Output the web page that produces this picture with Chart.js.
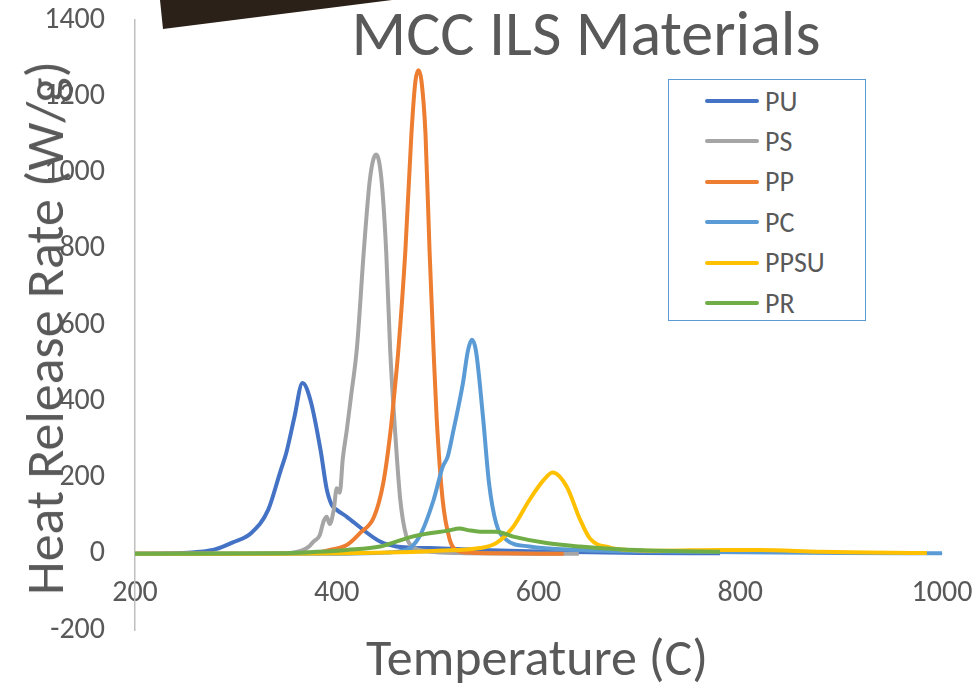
<!DOCTYPE html>
<html lang="en">
  <head>
    <meta charset="UTF-8" />
    <title>MCC ILS Materials</title>
    <script src="https://cdn.jsdelivr.net/npm/chart.js"></script>
    <style>
      html, body { margin: 0; padding: 0; background: #fff; }
      .wrap { position: relative; width: 978px; height: 683px; overflow: hidden;
              font-family: Carlito, Lato, "Open Sans", sans-serif; color: #595959; }
      canvas { position: absolute; left: 0; top: 0; }
      .shape { position: absolute; left: 0; top: 0; width: 400px; height: 40px; background: #2b2118;
               clip-path: polygon(160px 0, 392px 0, 163px 29px); }
      .title { position: absolute; left: 586px; top: 1px; transform: translateX(-50%);
               font-size: 64px; line-height: 64px; white-space: nowrap; }
      .xtitle { position: absolute; left: 537px; top: 631px; transform: translateX(-50%);
                font-size: 52px; line-height: 52px; white-space: nowrap; }
      .ytitle { position: absolute; left: 45px; top: 328px; transform: translate(-50%, -50%) rotate(-90deg);
                font-size: 54px; line-height: 54px; white-space: nowrap; }
      .legend { position: absolute; left: 668px; top: 79px; width: 196px; height: 240px;
                border: 1.5px solid #5b9bd5; background: #fff; }
      .legend .row { position: absolute; left: 36px; height: 30px; display: flex; align-items: center;
                     font-size: 28px; }
      .legend .swatch { width: 54px; height: 4px; border-radius: 2px; margin-right: 6px; }
    </style>
  </head>
  <body>
    <div class="wrap">
      <canvas id="myChart" width="978" height="683"></canvas>
      <div class="shape"></div>
      <div class="title">MCC ILS Materials</div>
      <div class="ytitle">Heat Release Rate (W/g)</div>
      <div class="xtitle">Temperature (C)</div>
      <div class="legend" id="legend"></div>
    </div>

    <script>
      // Dados (temperatura em C, taxa em W/g)
      var puX = [200, 240, 264, 280, 297, 315, 332, 344, 350, 358, 366, 374, 384, 390, 395, 400, 410, 426, 443, 459, 475, 492, 542, 600, 650, 700, 780];
      var puY = [0, 1, 5, 12, 30, 54, 115, 215, 265, 358, 448, 402, 271, 170, 128, 115, 97, 63, 32, 19, 16, 15, 10, 6, 4, 2, 1];

      var psX = [200, 340, 365, 372, 377, 383, 387, 390, 393, 397, 400, 403, 406, 410, 414, 420, 427, 433, 439, 444, 449, 453, 458, 463, 469, 475, 492, 520, 640];
      var psY = [0, 0, 8, 18, 32, 48, 85, 97, 78, 115, 172, 160, 250, 325, 410, 540, 800, 985, 1047, 990, 794, 532, 315, 141, 45, 19, 6, 2, 0];

      var ppX = [200, 300, 380, 393, 410, 423, 437, 446, 453, 458, 461, 468, 474, 478, 481, 484, 488, 492, 496, 499, 505, 512, 518, 530, 560, 625];
      var ppY = [0, 0, 3, 10, 23, 54, 97, 184, 315, 445, 532, 794, 1100, 1240, 1268, 1240, 1100, 794, 532, 358, 141, 37, 10, 3, 1, 0];

      var pcX = [200, 400, 440, 469, 482, 496, 505, 510, 515, 525, 530, 534, 538, 545, 551, 558, 568, 591, 641, 700, 800, 900, 1000];
      var pcY = [0, 0, 2, 10, 45, 141, 228, 255, 315, 446, 532, 561, 532, 358, 184, 80, 37, 19, 10, 6, 4, 2, 1];

      var ppsuX = [200, 330, 450, 500, 542, 558, 575, 591, 605, 614, 628, 641, 651, 671, 690, 720, 780, 820, 880, 985];
      var ppsuY = [0, 0, 3, 8, 15, 28, 71, 141, 193, 213, 176, 91, 40, 16, 10, 8, 10, 10, 5, 2];

      var prX = [200, 344, 380, 410, 443, 459, 475, 492, 509, 522, 530, 542, 558, 575, 608, 641, 680, 720, 780];
      var prY = [0, 1, 5, 10, 19, 32, 45, 54, 60, 66, 62, 58, 58, 45, 28, 19, 12, 8, 5];

      var xTicks = [200, 400, 600, 800, 1000];
      var yTicks = [-200, 0, 200, 400, 600, 800, 1000, 1200, 1400];

      function toPoints(xs, ys) {
        var pts = [];
        for (var i = 0; i < xs.length; i++) {
          pts.push({ x: xs[i], y: ys[i] });
        }
        return pts;
      }

      var series = [
        { label: "PU", color: "#4472c4", data: toPoints(puX, puY) },
        { label: "PS", color: "#a5a5a5", data: toPoints(psX, psY) },
        { label: "PP", color: "#ed7d31", data: toPoints(ppX, ppY) },
        { label: "PC", color: "#5b9bd5", data: toPoints(pcX, pcY) },
        { label: "PPSU", color: "#ffc000", data: toPoints(ppsuX, ppsuY) },
        { label: "PR", color: "#70ad47", data: toPoints(prX, prY) },
      ];

      var datasets = series.map(function (s, i) {
        return {
          label: s.label,
          data: s.data,
          borderColor: s.color,
          backgroundColor: s.color,
          borderWidth: 4,
          pointRadius: 0,
          cubicInterpolationMode: "monotone",
          order: series.length - i, // a última série fica por cima, como no Excel
        };
      });

      var tickFont = { family: "Carlito, Lato, 'Open Sans', sans-serif", size: 30 };

      // sem separador de milhar
      function plain(v) {
        return String(v);
      }

      var ctx = document.getElementById("myChart").getContext("2d");
      new Chart(ctx, {
        type: "line",
        data: { datasets: datasets },
        options: {
          responsive: false,
          animation: false,
          layout: { padding: { left: 0, right: 36, top: 20, bottom: 53 } },
          plugins: { legend: { display: false }, tooltip: { enabled: false } },
          scales: {
            x: {
              type: "linear",
              position: { y: 0 },
              min: 200,
              max: 1000,
              afterBuildTicks: function (scale) {
                scale.ticks = xTicks.map(function (v) { return { value: v }; });
              },
              afterFit: function (scale) {
                scale.paddingLeft = 0;
                scale.paddingRight = 0;
                scale.paddingTop = 0;
                scale.paddingBottom = 0;
              },
              grid: { display: false, drawTicks: false },
              border: { display: true, color: "#d9d9d9", width: 1 },
              ticks: { color: "#595959", font: tickFont, padding: 22, autoSkip: false, maxRotation: 0, callback: plain },
            },
            y: {
              min: -200,
              max: 1400,
              afterBuildTicks: function (scale) {
                scale.ticks = yTicks.map(function (v) { return { value: v }; });
              },
              afterFit: function (scale) {
                scale.width = 135;
                scale.paddingTop = 0;
                scale.paddingBottom = 0;
              },
              grid: { display: false, drawTicks: false },
              border: { display: true, color: "#bfbfbf", width: 1.5 },
              ticks: { color: "#595959", font: tickFont, padding: 30, callback: plain },
            },
          },
        },
      });

      // Legenda manual dentro da área do gráfico
      var legend = document.getElementById("legend");
      series.forEach(function (s, i) {
        var row = document.createElement("div");
        row.className = "row";
        row.style.top = (6 + i * 40.4) + "px";
        var sw = document.createElement("div");
        sw.className = "swatch";
        sw.style.background = s.color;
        var txt = document.createElement("span");
        txt.textContent = s.label;
        row.appendChild(sw);
        row.appendChild(txt);
        legend.appendChild(row);
      });
    </script>
  </body>
</html>
